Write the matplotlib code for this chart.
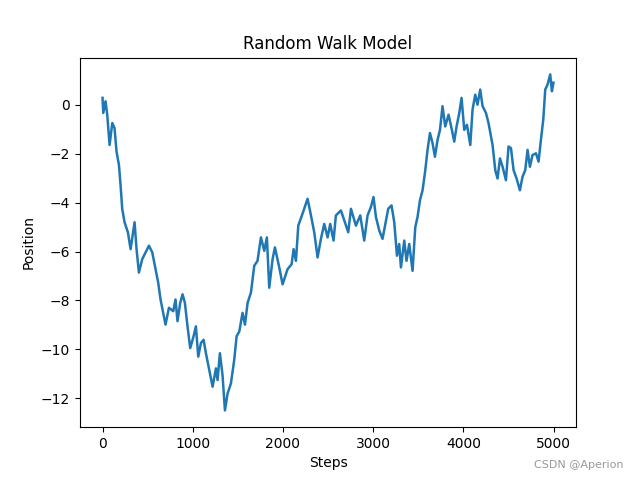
import matplotlib.pyplot as plt

# positions (step, position)
steps = [0, 8, 33, 52, 78, 108, 133, 155, 182, 200, 218, 244, 281, 311, 355,
         377, 403, 440, 477, 514, 551, 588, 617, 643, 698, 736, 784, 809, 831,
         861, 887, 913, 942, 972, 1009, 1035, 1061, 1091, 1120, 1146, 1183, 1220,
         1257, 1275, 1301, 1330, 1357, 1386, 1423, 1460, 1486, 1516, 1552, 1579,
         1608, 1645, 1682, 1718, 1756, 1793, 1822, 1848, 1885, 1911, 1959, 1996,
         2051, 2096, 2118, 2144, 2170, 2217, 2273, 2303, 2347, 2384, 2421, 2458,
         2495, 2524, 2561, 2587, 2643, 2687, 2724, 2754, 2809, 2857, 2901, 2938,
         2975, 3004, 3031, 3068, 3104, 3142, 3167, 3204, 3234, 3264, 3289, 3308,
         3345, 3370, 3400, 3437, 3467, 3492, 3519, 3548, 3578, 3603, 3630, 3659,
         3685, 3714, 3741, 3769, 3799, 3836, 3869, 3899, 3925, 3955, 3980, 4010,
         4040, 4077, 4102, 4132, 4157, 4187, 4213, 4251, 4279, 4306, 4324, 4354,
         4379, 4406, 4435, 4472, 4501, 4528, 4557, 4590, 4627, 4656, 4686, 4712,
         4738, 4767, 4805, 4834, 4860, 4886, 4908, 4934, 4963, 4982, 4999]
position = [0.29, -0.33, 0.15, -0.4, -1.64, -0.74, -0.95, -1.91, -2.46, -3.29,
            -4.25, -4.8, -5.21, -5.9, -4.8, -5.9, -6.86, -6.31, -6.03, -5.76,
            -6.03, -6.72, -7.27, -7.96, -8.99, -8.3, -8.44, -7.96, -8.85, -8.1,
            -7.75, -8.1, -9.06, -9.95, -9.47, -9.06, -10.3, -9.74, -9.61, -10.16,
            -10.85, -11.53, -10.78, -11.26, -10.16, -11.05, -12.5, -11.81, -11.4,
            -10.43, -9.47, -9.27, -8.51, -8.99, -8.1, -7.68, -6.58, -6.38, -5.42,
            -5.97, -5.42, -7.48, -6.31, -5.83, -6.65, -7.34, -6.72, -6.52, -5.9,
            -6.38, -4.94, -4.45, -3.84, -4.38, -5.21, -6.24, -5.48, -4.87, -5.42,
            -4.87, -5.55, -4.52, -4.32, -4.8, -5.21, -4.25, -4.94, -4.52, -5.55,
            -4.52, -4.18, -3.77, -4.59, -5.14, -5.48, -4.73, -4.25, -4.11, -4.8,
            -6.17, -5.69, -6.65, -5.55, -6.38, -5.69, -6.79, -5.0, -4.59, -3.9,
            -3.49, -2.67, -1.84, -1.15, -1.57, -2.12, -1.43, -1.02, -0.05, -0.88,
            -0.4, -0.95, -1.5, -0.88, -0.33, 0.29, -1.02, -0.81, -1.64, -0.19,
            0.42, 0.01, 0.63, -0.05, -0.33, -0.74, -1.29, -1.64, -2.67, -3.01,
            -2.19, -2.53, -3.08, -1.7, -1.77, -2.67, -3.01, -3.49, -2.94, -2.67,
            -1.84, -2.53, -2.05, -1.98, -2.32, -1.43, -0.6, 0.63, 0.84, 1.25,
            0.56, 0.91]

fig, ax = plt.subplots(figsize=(6.4, 4.8), dpi=100)
ax.plot(steps, position, color='#1f77b4', linewidth=1.8)
ax.set_title("Random Walk Model")
ax.set_xlabel("Steps")
ax.set_ylabel("Position")

fig.text(0.975, 0.02, "CSDN @Aperion", ha='right', va='bottom',
         fontsize=8, color='#999999')

fig.savefig("out.png")
